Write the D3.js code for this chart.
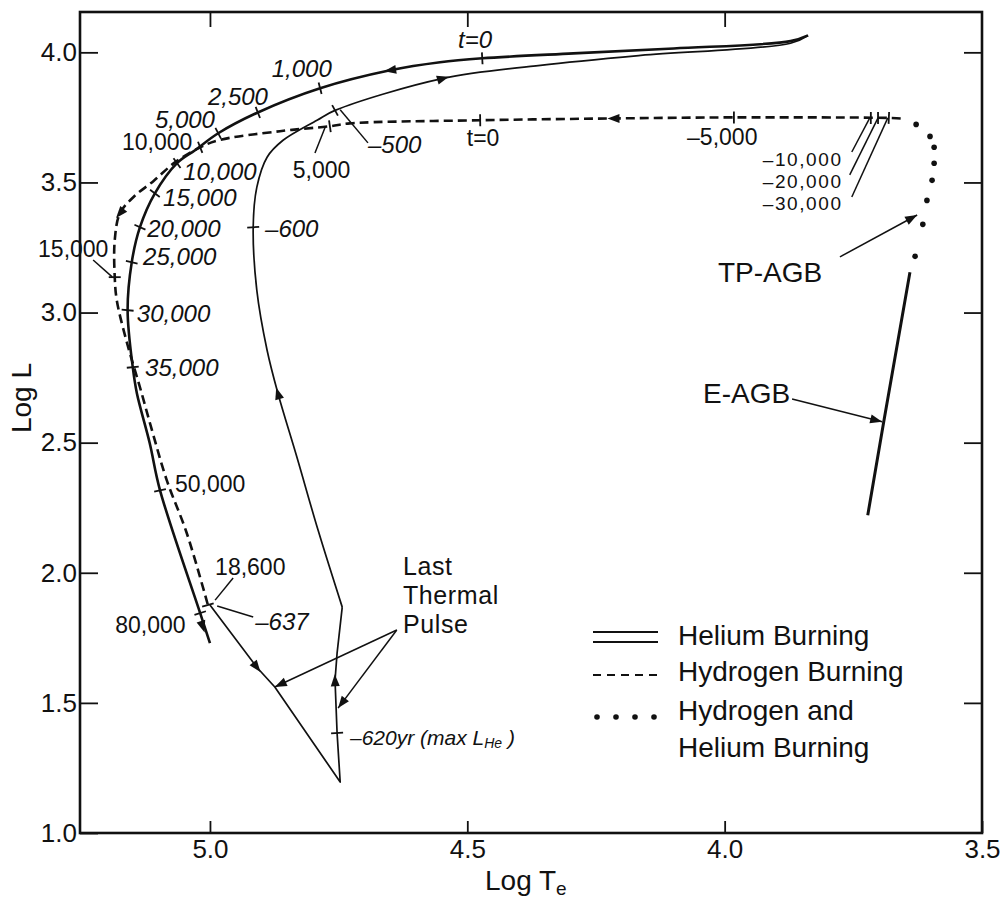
<!DOCTYPE html>
<html>
<head>
<meta charset="utf-8">
<script src="https://cdn.jsdelivr.net/npm/d3@7"></script>
<style>
  body { margin: 0; background: #fff; }
  text { font-family: "Liberation Sans", Arial, sans-serif; fill: #111; }
</style>
</head>
<body>
<div id="chart"></div>
<script>
// [log Te, log L]
const heliumTrack = [[3.838, 4.065], [3.872, 4.043], [4.099, 4.015], [4.294, 3.996], [4.471, 3.977],
  [4.553, 3.962], [4.650, 3.931], [4.786, 3.862], [4.907, 3.769], [4.984, 3.689], [5.029, 3.624],
  [5.064, 3.574], [5.107, 3.458], [5.136, 3.328], [5.152, 3.193], [5.160, 3.009], [5.150, 2.790],
  [5.142, 2.690], [5.117, 2.498], [5.097, 2.317], [5.019, 1.845], [5.000, 1.730]];

const hydrogenTrack = [[3.658, 3.746], [3.681, 3.748], [3.982, 3.750], [4.216, 3.746], [4.475, 3.739],
  [4.728, 3.727], [4.767, 3.716], [4.864, 3.697], [4.984, 3.662], [5.019, 3.635], [5.068, 3.577],
  [5.110, 3.505], [5.148, 3.445], [5.175, 3.381], [5.185, 3.278], [5.185, 3.136], [5.181, 3.047],
  [5.161, 2.882], [5.136, 2.713], [5.111, 2.536], [5.084, 2.356], [5.045, 2.152], [5.004, 1.876]];

// last thermal pulse: straight lower loop, then the curved rise
const pulseLoop = [[5.000, 1.876], [4.909, 1.637], [4.874, 1.561], [4.747, 1.196], [4.753, 1.384],
  [4.757, 1.587], [4.753, 1.691], [4.743, 1.868]];
const pulseRise = [[4.743, 1.868], [4.790, 2.164], [4.831, 2.444], [4.868, 2.690],
  [4.889, 2.855], [4.909, 3.086], [4.916, 3.328], [4.909, 3.481], [4.889, 3.597], [4.858, 3.662],
  [4.792, 3.739], [4.757, 3.777], [4.547, 3.900], [4.358, 3.950], [4.163, 3.988], [3.872, 4.035],
  [3.838, 4.065]];

const tpAgbDots = [[3.628, 3.723], [3.601, 3.677], [3.593, 3.635], [3.593, 3.574], [3.597, 3.508],
  [3.607, 3.431], [3.615, 3.339], [3.630, 3.216]];

const eAgbTrack = [[3.722, 2.221], [3.691, 2.579], [3.640, 3.155]];

// time marks on the tracks
const heliumMarks = [[4.471, 3.977], [4.786, 3.862], [4.907, 3.769], [4.984, 3.689], [5.064, 3.574],
  [5.107, 3.458], [5.136, 3.328], [5.152, 3.193], [5.160, 3.009], [5.150, 2.790], [5.097, 2.317],
  [5.019, 1.845]];
const hydrogenMarks = [[3.716, 3.748], [3.702, 3.748], [3.681, 3.748], [3.982, 3.750], [4.475, 3.739],
  [4.767, 3.716], [5.019, 3.635], [5.185, 3.136], [5.004, 1.876]];
const pulseMarks = [[4.753, 1.384], [4.916, 3.328], [4.757, 3.777]];

// direction arrows on the tracks
const heliumArrows = [[4.650, 3.931], [5.014, 1.792]];
const hydrogenArrows = [[4.216, 3.746], [5.175, 3.381]];
const pulseLoopArrows = [[4.909, 1.637], [4.757, 1.587]];
const pulseRiseArrows = [[4.868, 2.690], [4.547, 3.900]];

const italicLabels = [
  ['1,000', 4.880, 3.905], ['2,500', 5.004, 3.798], ['5,000', 5.107, 3.709], ['10,000', 5.052, 3.510],
  ['15,000', 5.091, 3.410], ['20,000', 5.122, 3.291], ['25,000', 5.130, 3.183], ['30,000', 5.142, 2.964],
  ['35,000', 5.126, 2.756], ['\u2013600', 4.893, 3.291], ['\u2013500', 4.693, 3.613], ['t=0', 4.518, 4.017],
  ['\u2013637', 4.912, 1.780]];

const plainLabels = [
  ['10,000', 5.171, 3.625], ['15,000', 5.334, 3.214], ['5,000', 4.839, 3.517], ['t=0', 4.501, 3.640],
  ['\u20135,000', 4.073, 3.644], ['50,000', 5.068, 2.311], ['18,600', 4.990, 1.992],
  ['80,000', 5.184, 1.769]];

const stackLabels = [
  ['\u201310,000', 3.926, 3.563], ['\u201320,000', 3.926, 3.478], ['\u201330,000', 3.926, 3.394]];

const bigLabels = [['TP-AGB', 4.013, 3.118], ['E-AGB', 4.042, 2.653]];

const pulseLabels = [['Last', 4.625, 1.990], ['Thermal', 4.625, 1.879], ['Pulse', 4.625, 1.768]];

// leader lines: from, to, arrowhead at "to"
const leaders = [
  [[5.227, 3.202], [5.190, 3.137], false], [[4.796, 3.613], [4.776, 3.713], false],
  [[4.693, 3.652], [4.747, 3.779], false], [[3.753, 3.617], [3.718, 3.748], false],
  [[3.757, 3.529], [3.702, 3.748], false], [[3.753, 3.444], [3.683, 3.748], false],
  [[4.955, 1.980], [4.990, 1.895], false], [[4.986, 1.872], [4.916, 1.830], false],
  [[4.637, 1.780], [4.874, 1.561], true], [[4.637, 1.780], [4.751, 1.480], true],
  [[3.776, 3.214], [3.626, 3.375], true], [[3.869, 2.668], [3.694, 2.580], true]];

const xTicks = [5.0, 4.5, 4.0, 3.5];
const yTicks = [1.0, 1.5, 2.0, 2.5, 3.0, 3.5, 4.0];
const legendLabels = ['Helium Burning', 'Hydrogen Burning', 'Hydrogen and', 'Helium Burning'];

const width = 1002;
const height = 901;
const plot = { left: 80, right: 982, top: 12, bottom: 833 };
const ink = '#111';

const xScale = d3.scaleLinear().domain([5.2525, 3.5]).range([plot.left, plot.right]);
const yScale = d3.scaleLinear().domain([1.0, 4.155]).range([plot.bottom, plot.top]);

const svg = d3.select('#chart').append('svg')
  .attr('width', width)
  .attr('height', height);

svg.append('rect').attr('width', width).attr('height', height).attr('fill', '#fff');

const fmt = d3.format('.1f');

function styleAxis(sel) {
  sel.select('.domain').remove();
  sel.selectAll('.tick line').attr('stroke', ink).attr('stroke-width', 1.8);
  sel.selectAll('.tick text').attr('font-size', 26).attr('fill', ink)
    .style('font-family', '"Liberation Sans", Arial, sans-serif');
}

svg.append('g')
  .attr('transform', `translate(0,${plot.bottom})`)
  .call(d3.axisBottom(xScale).tickValues(xTicks).tickSize(-12).tickPadding(7).tickFormat(fmt))
  .call(styleAxis);
svg.append('g')
  .attr('transform', `translate(0,${plot.top})`)
  .call(d3.axisTop(xScale).tickValues(xTicks.slice(0, 3)).tickSize(-15).tickFormat(''))
  .call(styleAxis);
svg.append('g')
  .attr('transform', `translate(${plot.left},0)`)
  .call(d3.axisLeft(yScale).tickValues(yTicks).tickSize(-18).tickPadding(3).tickFormat(fmt))
  .call(styleAxis);
svg.append('g')
  .attr('transform', `translate(${plot.right},0)`)
  .call(d3.axisRight(yScale).tickValues(yTicks.slice(1)).tickSize(-18).tickFormat(''))
  .call(styleAxis);

svg.append('rect')
  .attr('x', plot.left)
  .attr('y', plot.top)
  .attr('width', plot.right - plot.left)
  .attr('height', plot.bottom - plot.top)
  .attr('fill', 'none')
  .attr('stroke', ink)
  .attr('stroke-width', 2.6);

// axis titles
svg.append('text')
  .attr('transform', 'translate(31,398) rotate(-90)')
  .attr('text-anchor', 'middle')
  .attr('font-size', 28)
  .text('Log L');

const xTitle = svg.append('text')
  .attr('x', 485)
  .attr('y', 890)
  .attr('font-size', 28)
  .text('Log T');
xTitle.append('tspan').attr('font-size', 19).attr('dy', 5).text('e');

const line = d3.line()
  .x(d => xScale(d[0]))
  .y(d => yScale(d[1]))
  .curve(d3.curveCatmullRom.alpha(0.5));

const straight = d3.line()
  .x(d => xScale(d[0]))
  .y(d => yScale(d[1]));

const g = svg.append('g');

g.append('path').datum(pulseLoop)
  .attr('d', straight).attr('fill', 'none').attr('stroke', ink).attr('stroke-width', 1.7)
  .attr('stroke-linejoin', 'round');
g.append('path').datum(pulseRise)
  .attr('d', line).attr('fill', 'none').attr('stroke', ink).attr('stroke-width', 1.7);
g.append('path').datum(heliumTrack)
  .attr('d', line).attr('fill', 'none').attr('stroke', ink).attr('stroke-width', 2.6);
g.append('path').datum(hydrogenTrack)
  .attr('d', line).attr('fill', 'none').attr('stroke', ink).attr('stroke-width', 2.6)
  .attr('stroke-dasharray', '9,5');
g.append('path').datum(eAgbTrack)
  .attr('d', straight)
  .attr('fill', 'none').attr('stroke', ink).attr('stroke-width', 3);

g.selectAll('.dot')
  .data(tpAgbDots)
  .enter().append('circle')
  .attr('class', 'dot')
  .attr('cx', d => xScale(d[0]))
  .attr('cy', d => yScale(d[1]))
  .attr('r', 2.8)
  .attr('fill', ink);

// unit direction of the track (in pixels) at the segment nearest to p
function direction(track, p) {
  const px = xScale(p[0]);
  const py = yScale(p[1]);
  let best = null;
  let bestDist = Infinity;
  for (let i = 0; i < track.length - 1; i += 1) {
    const ax = xScale(track[i][0]);
    const ay = yScale(track[i][1]);
    const bx = xScale(track[i + 1][0]);
    const by = yScale(track[i + 1][1]);
    const vx = bx - ax;
    const vy = by - ay;
    const len2 = vx * vx + vy * vy || 1;
    const t = Math.max(0, Math.min(1, ((px - ax) * vx + (py - ay) * vy) / len2));
    const dx = ax + t * vx - px;
    const dy = ay + t * vy - py;
    const dist = dx * dx + dy * dy;
    if (dist < bestDist) {
      bestDist = dist;
      const len = Math.sqrt(len2);
      best = [vx / len, vy / len];
    }
  }
  return best;
}

function drawMarks(track, marks) {
  g.selectAll(null)
    .data(marks)
    .enter().append('line')
    .each(function drawMark(d) {
      const [ux, uy] = direction(track, d);
      const cx = xScale(d[0]);
      const cy = yScale(d[1]);
      d3.select(this)
        .attr('x1', cx - uy * 6).attr('y1', cy + ux * 6)
        .attr('x2', cx + uy * 6).attr('y2', cy - ux * 6)
        .attr('stroke', ink).attr('stroke-width', 1.8);
    });
}

function arrowHead(cx, cy, ux, uy) {
  const tip = [cx + ux * 6, cy + uy * 6];
  const base = [cx - ux * 6, cy - uy * 6];
  return `M${tip[0]},${tip[1]}L${base[0] - uy * 4.5},${base[1] + ux * 4.5}`
    + `L${base[0] + uy * 4.5},${base[1] - ux * 4.5}Z`;
}

function drawArrows(track, arrows) {
  g.selectAll(null)
    .data(arrows)
    .enter().append('path')
    .attr('d', (d) => {
      const [ux, uy] = direction(track, d);
      return arrowHead(xScale(d[0]), yScale(d[1]), ux, uy);
    })
    .attr('fill', ink);
}

drawMarks(heliumTrack, heliumMarks);
drawMarks(hydrogenTrack, hydrogenMarks);
drawMarks(pulseLoop.concat(pulseRise), pulseMarks);
drawArrows(heliumTrack, heliumArrows);
drawArrows(hydrogenTrack, hydrogenArrows);
drawArrows(pulseLoop, pulseLoopArrows);
drawArrows(pulseRise, pulseRiseArrows);

// leader lines
leaders.forEach(([from, to, arrow]) => {
  const x1 = xScale(from[0]);
  const y1 = yScale(from[1]);
  const x2 = xScale(to[0]);
  const y2 = yScale(to[1]);
  g.append('line')
    .attr('x1', x1).attr('y1', y1).attr('x2', x2).attr('y2', y2)
    .attr('stroke', ink).attr('stroke-width', 1.5);
  if (arrow) {
    const len = Math.hypot(x2 - x1, y2 - y1);
    const ux = (x2 - x1) / len;
    const uy = (y2 - y1) / len;
    g.append('path')
      .attr('d', arrowHead(x2 - ux * 6, y2 - uy * 6, ux, uy))
      .attr('fill', ink);
  }
});

function drawLabels(labels, size, italic, spacing) {
  g.selectAll(null)
    .data(labels)
    .enter().append('text')
    .attr('x', d => xScale(d[1]))
    .attr('y', d => yScale(d[2]))
    .attr('font-size', size)
    .attr('font-style', italic ? 'italic' : 'normal')
    .attr('letter-spacing', spacing || 0)
    .text(d => d[0]);
}

drawLabels(italicLabels, 24, true);
drawLabels(plainLabels, 23, false);
drawLabels(stackLabels, 19, false, 1.6);
drawLabels(bigLabels, 28, false);
drawLabels(pulseLabels, 25, false, 0.6);

const maxLabel = g.append('text')
  .attr('x', xScale(4.728))
  .attr('y', yScale(1.338))
  .attr('font-size', 21)
  .attr('font-style', 'italic')
  .text('\u2013620yr  (max L');
maxLabel.append('tspan').attr('font-size', 14).attr('dy', 3).text('He');
maxLabel.append('tspan').attr('dy', -3).text(' )');

// legend
const legend = svg.append('g').attr('transform', 'translate(593,0)');
legend.append('line').attr('x1', 0).attr('x2', 65).attr('y1', 632).attr('y2', 632)
  .attr('stroke', ink).attr('stroke-width', 2);
legend.append('line').attr('x1', 0).attr('x2', 65).attr('y1', 642).attr('y2', 642)
  .attr('stroke', ink).attr('stroke-width', 2);
legend.append('line').attr('x1', 0).attr('x2', 65).attr('y1', 675).attr('y2', 675)
  .attr('stroke', ink).attr('stroke-width', 2).attr('stroke-dasharray', '8,6');
legend.selectAll('circle')
  .data([0, 1, 2, 3])
  .enter().append('circle')
  .attr('cx', d => 4 + d * 19)
  .attr('cy', 717)
  .attr('r', 2.8)
  .attr('fill', ink);
legend.selectAll('.legend-label')
  .data(legendLabels)
  .enter().append('text')
  .attr('class', 'legend-label')
  .attr('x', 85)
  .attr('y', (d, i) => [645, 681, 720, 757][i])
  .attr('font-size', 28)
  .text(d => d);
</script>
</body>
</html>
